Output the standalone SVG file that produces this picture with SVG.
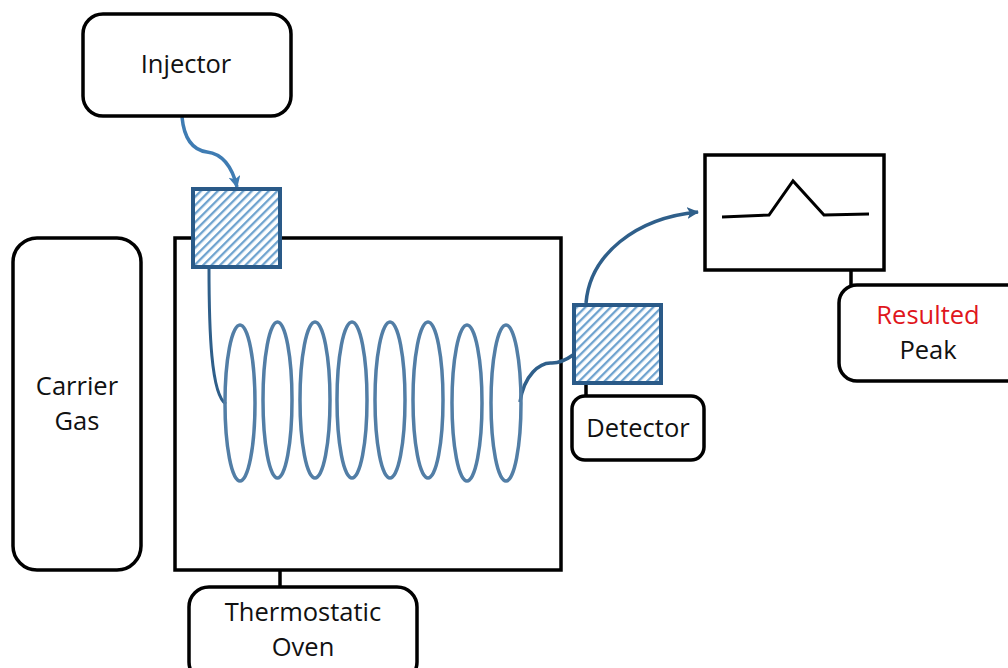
<svg xmlns="http://www.w3.org/2000/svg" width="1008" height="668" viewBox="0 0 1008 668">
<defs>
<pattern id="hatch" width="6" height="6" patternUnits="userSpaceOnUse" patternTransform="rotate(45)"><rect width="6" height="6" fill="#fff"/><rect x="0" width="2.300" height="6" fill="#6fa3cf"/></pattern>
<marker id="a1" markerUnits="userSpaceOnUse" markerWidth="14" markerHeight="14" refX="11" refY="6" orient="auto"><path d="M0 0L12 6L0 12L3 6Z" fill="#3f7cb3"/></marker>
<marker id="a2" markerUnits="userSpaceOnUse" markerWidth="14" markerHeight="14" refX="11" refY="6" orient="auto"><path d="M0 0L12 6L0 12L3 6Z" fill="#2f5f8a"/></marker>
</defs>
<style>
.b{fill:#fff;stroke:#000;stroke-width:3.500}
.t{font-family:"Open Sans","Liberation Sans",sans-serif;font-size:25.500px;fill:#111;text-anchor:middle}
.c{fill:none;stroke:#000;stroke-width:3.500}
.w{fill:none;stroke:#527ea6;stroke-width:3.500}
.h{fill:url(#hatch);stroke:#2a5a88;stroke-width:4}
</style>
<rect width="1008" height="668" fill="#fff"/>
<g id="oven-box"><rect class="b" x="175" y="238" width="386" height="332"/></g>
<g id="connectors">
<path class="c" d="M280 570V588M586 382V396M851 270V286"/>
<path d="M182 117C184 138 192 150 207 152C223 154 232 166 237 187" fill="none" stroke="#3f7cb3" stroke-width="3.500" marker-end="url(#a1)"/>
<path d="M586 303C590 255 635 218 698 212" fill="none" stroke="#2f5f8a" stroke-width="3.500" marker-end="url(#a2)"/>
<path d="M209 267C209 330 211 395 226 404" fill="none" stroke="#2f5f8a" stroke-width="3"/>
<path d="M520 402C524 375 540 362 552 363C560 363 566 360 573 355" fill="none" stroke="#2f5f8a" stroke-width="3.500"/>
</g>
<g id="coil">
<ellipse class="w" cx="240" cy="403" rx="15" ry="78"/>
<ellipse class="w" cx="277.500" cy="400" rx="14.500" ry="78"/>
<ellipse class="w" cx="315" cy="400" rx="15" ry="78"/>
<ellipse class="w" cx="352" cy="400" rx="15" ry="78"/>
<ellipse class="w" cx="390" cy="400" rx="15" ry="78"/>
<ellipse class="w" cx="428" cy="400" rx="15" ry="78"/>
<ellipse class="w" cx="467" cy="403" rx="15" ry="78"/>
<ellipse class="w" cx="506" cy="403" rx="15" ry="78"/>
</g>
<g id="injector"><rect class="b" x="83" y="14" width="208" height="102" rx="20"/><text class="t" x="186" y="73">Injector</text></g>
<g id="inlet-block"><rect class="h" x="193" y="189" width="87" height="78"/></g>
<g id="carrier-gas"><rect class="b" x="13" y="238" width="128" height="332" rx="24"/><text class="t" x="77" y="395">Carrier</text><text class="t" x="77" y="430">Gas</text></g>
<g id="thermostatic-oven"><rect class="b" x="189" y="587" width="228" height="95" rx="20"/><text class="t" x="303" y="621">Thermostatic</text><text class="t" x="303" y="656">Oven</text></g>
<g id="detector-block"><rect class="h" x="574" y="305" width="87" height="78"/></g>
<g id="detector"><rect class="b" x="572" y="396" width="132" height="64" rx="13"/><text class="t" x="638" y="437">Detector</text></g>
<g id="recorder"><rect class="b" x="705" y="155" width="179" height="115"/><path d="M722 217L769 215L793 181L824 215L869 214" fill="none" stroke="#000" stroke-width="3"/></g>
<g id="resulted-peak"><rect class="b" x="839" y="285" width="185" height="96" rx="18"/><text class="t" x="928" y="324" style="fill:#e0161c">Resulted</text><text class="t" x="928" y="359">Peak</text></g>
</svg>
